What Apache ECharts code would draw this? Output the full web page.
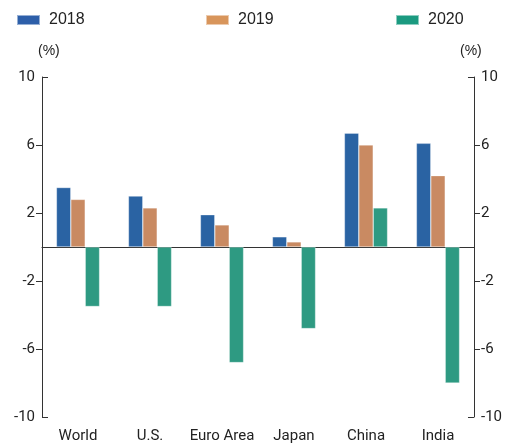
<!DOCTYPE html>
<html>
<head>
<meta charset="utf-8">
<script src="https://cdn.jsdelivr.net/npm/echarts@6/dist/echarts.min.js"></script>
<style>
  html, body { margin: 0; padding: 0; background: #fff; }
  #chart { width: 505px; height: 446px; }
</style>
</head>
<body>
<div id="chart"></div>
<script>
var categories = ['World', 'U.S.', 'Euro Area', 'Japan', 'China', 'India'];
var values2018 = [3.5, 3.0, 1.9, 0.6, 6.7, 6.1];
var values2019 = [2.8, 2.3, 1.3, 0.3, 6.0, 4.2];
var values2020 = [-3.5, -3.5, -6.8, -4.8, 2.3, -8.0];
var seriesNames = ['2018', '2019', '2020'];
var innerTicks = [-6, -2, 2, 6];

var barColors = ['#2a63a3', '#c98a62', '#2e9a82'];
var legendColors = ['#2d5fa9', '#d8955b', '#1b9a80'];
var narrow = 'Roboto';
var regular = 'Liberation Sans';

var chart = echarts.init(document.getElementById('chart'));

function valueAxis(pos, showLabels, interval, tickInside) {
    var tick = { show: true, inside: tickInside, length: 6, lineStyle: { color: '#333' } };
    if (showLabels) {
        tick.customValues = innerTicks;
    }
    return {
        type: 'value',
        position: pos,
        min: -10,
        max: 10,
        interval: interval,
        axisLine: { show: showLabels, lineStyle: { color: '#333', width: 1 } },
        axisTick: tick,
        axisLabel: {
            show: showLabels,
            color: '#222',
            fontFamily: narrow,
            fontSize: 15,
            margin: 7
        },
        splitLine: { show: false }
    };
}

function bar(idx, data) {
    return {
        name: seriesNames[idx],
        type: 'bar',
        data: data,
        barWidth: 14.4,
        barGap: '0%',
        itemStyle: {
            color: barColors[idx],
            borderColor: 'rgba(255,255,255,0.5)',
            borderWidth: 0.6
        }
    };
}

function legendAt(idx, left) {
    return {
        data: [{ name: seriesNames[idx], itemStyle: { color: legendColors[idx] } }],
        left: left,
        top: 7,
        itemWidth: 23,
        itemHeight: 10,
        icon: 'rect',
        textStyle: { color: '#222', fontFamily: regular, fontSize: 16, padding: [0, 0, 0, 4] }
    };
}

chart.setOption({
    animation: false,
    legend: [legendAt(0, 11), legendAt(1, 200), legendAt(2, 390)],
    grid: { left: 42, right: 28, top: 77, bottom: 29 },
    xAxis: [
        {
            type: 'category',
            data: categories,
            position: 'bottom',
            axisLine: { show: false, onZero: false },
            axisTick: { show: false },
            axisLabel: { interval: 0, color: '#222', fontFamily: narrow, fontSize: 15, margin: 12 }
        },
        {
            type: 'category',
            data: categories,
            axisLine: { show: true, onZero: true, lineStyle: { color: '#333', width: 1 } },
            axisTick: { show: false },
            axisLabel: { show: false }
        }
    ],
    yAxis: [
        valueAxis('left', true, 4, false),
        valueAxis('right', true, 4, false),
        valueAxis('left', false, 20, true),
        valueAxis('right', false, 20, true)
    ],
    graphic: [
        { type: 'text', left: 38, top: 44, style: { text: '(%)', fill: '#222', font: '14px "Liberation Sans"' } },
        { type: 'text', left: 460, top: 44, style: { text: '(%)', fill: '#222', font: '14px "Liberation Sans"' } }
    ],
    series: [bar(0, values2018), bar(1, values2019), bar(2, values2020)]
});
</script>
</body>
</html>
